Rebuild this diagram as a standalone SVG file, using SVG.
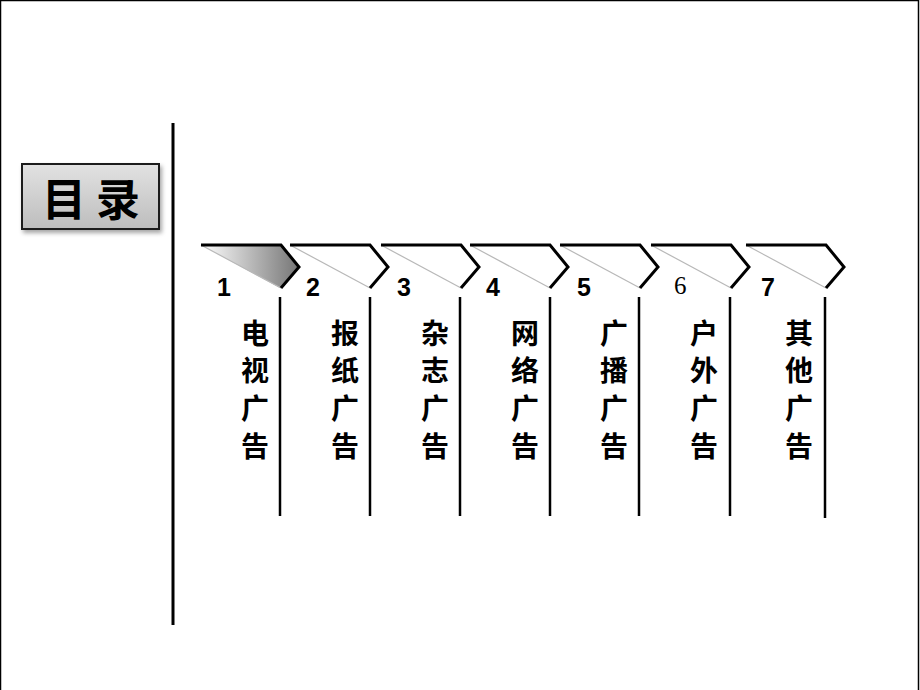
<svg xmlns="http://www.w3.org/2000/svg" width="920" height="690" viewBox="0 0 920 690">
<style>
.num{font-family:"Liberation Sans",Arial,sans-serif;font-size:25px;font-weight:bold;fill:#000}
.lbl{font-family:"Noto Sans CJK SC","Noto Sans CJK JP",sans-serif;font-size:28px;font-weight:bold;fill:#000;text-anchor:middle}
.edge{fill:none;stroke:#000;stroke-width:3;stroke-linejoin:miter}
.diag{stroke:#b8b8b8;stroke-width:1.2}
.vline{stroke:#000;stroke-width:2.5}
</style>
<defs>
<linearGradient id="g1" x1="0" y1="0" x2="1" y2="0">
<stop offset="0" stop-color="#ffffff"/>
<stop offset="1" stop-color="#777777"/>
</linearGradient>
<linearGradient id="gt" x1="0" y1="0" x2="0" y2="1">
<stop offset="0" stop-color="#e2e2e2"/>
<stop offset="1" stop-color="#bdbdbd"/>
</linearGradient>
<filter id="sh" x="-10%" y="-10%" width="130%" height="140%">
<feDropShadow dx="2" dy="3" stdDeviation="2" flood-color="#000" flood-opacity="0.35"/>
</filter>
<g id="chev">
<line class="diag" x1="0" y1="0" x2="80" y2="43"/>
<polyline class="edge" points="0,0 80,0 98,22 80,43"/>
</g>
</defs>
<rect x="0.5" y="0.5" width="918" height="720" fill="#fff" stroke="#000" stroke-width="1.5"/>
<g id="title">
<rect x="22" y="164" width="137" height="65" fill="url(#gt)" stroke="#1a1a1a" stroke-width="2" filter="url(#sh)"/>
<text x="91" y="216" font-family="Noto Sans CJK SC,sans-serif" font-size="44" font-weight="bold" text-anchor="middle" fill="#000">目 录</text>
</g>
<g id="connectors">
<line x1="173" y1="123" x2="173" y2="625" stroke="#000" stroke-width="3"/>
<line class="vline" x1="280" y1="297" x2="280" y2="516"/>
<line class="vline" x1="370" y1="297" x2="370" y2="516"/>
<line class="vline" x1="460" y1="297" x2="460" y2="516"/>
<line class="vline" x1="550" y1="297" x2="550" y2="516"/>
<line class="vline" x1="639" y1="297" x2="639" y2="516"/>
<line class="vline" x1="730" y1="297" x2="730" y2="516"/>
<line class="vline" x1="825" y1="297" x2="825" y2="518"/>
</g>
<g id="item1">
<path d="M201,245 L280,245 L298,267 L280,288 Z" fill="url(#g1)"/>
<use href="#chev" x="201" y="245"/>
<text class="num" x="217" y="296">1</text>
<text class="lbl"><tspan x="255" y="344">电</tspan><tspan x="255" y="381">视</tspan><tspan x="255" y="419">广</tspan><tspan x="255" y="457">告</tspan></text>
</g>
<g id="item2">
<use href="#chev" x="290" y="245"/>
<text class="num" x="306" y="296">2</text>
<text class="lbl"><tspan x="345" y="344">报</tspan><tspan x="345" y="381">纸</tspan><tspan x="345" y="419">广</tspan><tspan x="345" y="457">告</tspan></text>
</g>
<g id="item3">
<use href="#chev" x="381" y="245"/>
<text class="num" x="397" y="296">3</text>
<text class="lbl"><tspan x="435" y="344">杂</tspan><tspan x="435" y="381">志</tspan><tspan x="435" y="419">广</tspan><tspan x="435" y="457">告</tspan></text>
</g>
<g id="item4">
<use href="#chev" x="470" y="245"/>
<text class="num" x="486" y="296">4</text>
<text class="lbl"><tspan x="525" y="344">网</tspan><tspan x="525" y="381">络</tspan><tspan x="525" y="419">广</tspan><tspan x="525" y="457">告</tspan></text>
</g>
<g id="item5">
<use href="#chev" x="560" y="245"/>
<text class="num" x="577" y="296">5</text>
<text class="lbl"><tspan x="614" y="344">广</tspan><tspan x="614" y="381">播</tspan><tspan x="614" y="419">广</tspan><tspan x="614" y="457">告</tspan></text>
</g>
<g id="item6">
<use href="#chev" x="651" y="245"/>
<text x="674" y="294" font-family="Liberation Serif,serif" font-size="25" fill="#000">6</text>
<text class="lbl"><tspan x="704" y="344">户</tspan><tspan x="704" y="381">外</tspan><tspan x="704" y="419">广</tspan><tspan x="704" y="457">告</tspan></text>
</g>
<g id="item7">
<use href="#chev" x="746" y="245"/>
<text class="num" x="761" y="296">7</text>
<text class="lbl"><tspan x="799" y="344">其</tspan><tspan x="799" y="381">他</tspan><tspan x="799" y="419">广</tspan><tspan x="799" y="457">告</tspan></text>
</g>
</svg>
